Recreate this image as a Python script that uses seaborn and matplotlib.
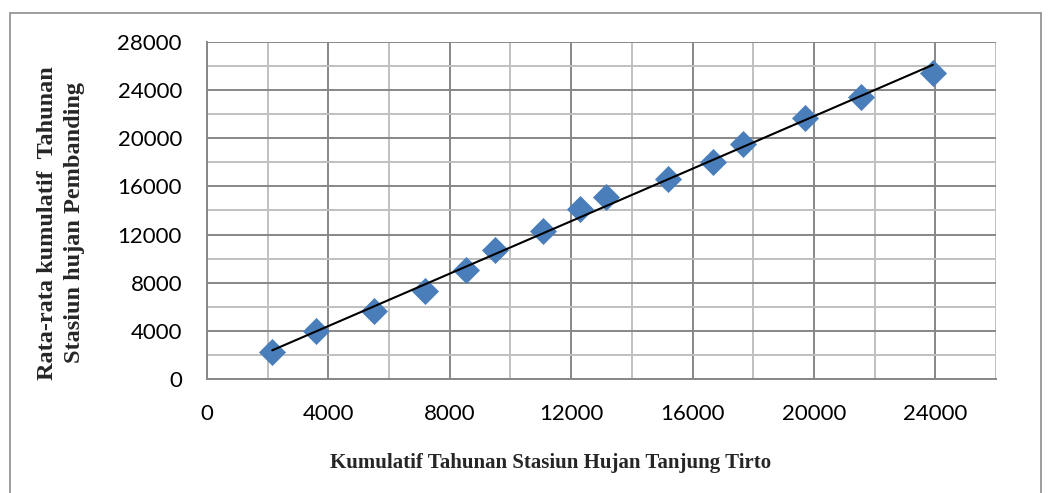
import numpy as np
import pandas as pd
import matplotlib
matplotlib.use('Agg')
import matplotlib.pyplot as plt
from matplotlib.patches import Rectangle
from matplotlib.ticker import MultipleLocator
import seaborn as sns

# Data
kumulatif_tanjung_tirto = [2150, 3600, 5500, 7200, 8550, 9500, 11070, 12300,
                           13150, 15200, 16680, 17650, 19700, 21550, 23920]
kumulatif_pembanding = [2250, 3950, 5650, 7350, 9050, 10700, 12330, 14100,
                        15150, 16600, 18000, 19500, 21650, 23450, 25400]

df = pd.DataFrame({'x': kumulatif_tanjung_tirto, 'y': kumulatif_pembanding})

sns.set_style('white')
plt.rcParams['font.family'] = ['Lato', 'DejaVu Sans']

fig = plt.figure(figsize=(10.51, 4.93), dpi=100)
ax = fig.add_axes([207 / 1051, 1 - 379 / 493, 789 / 1051, 337 / 493])

# outer chart border
fig.patches.append(Rectangle((10 / 1051, -0.05), 1031 / 1051, 1.05 - 13 / 493,
                             transform=fig.transFigure, fill=False,
                             edgecolor='#8c8c8c', linewidth=1.2))

sns.regplot(data=df, x='x', y='y', ax=ax, ci=None, marker='D',
            scatter_kws=dict(s=190, color='#4a7ebb', linewidths=0, alpha=1),
            line_kws=dict(color='black', linewidth=1.5))

ax.set_xlim(0, 26000)
ax.set_ylim(0, 28000)
ax.xaxis.set_major_locator(MultipleLocator(4000))
ax.xaxis.set_minor_locator(MultipleLocator(2000))
ax.yaxis.set_major_locator(MultipleLocator(4000))
ax.yaxis.set_minor_locator(MultipleLocator(2000))
ax.set_xticks([0, 4000, 8000, 12000, 16000, 20000, 24000])

ax.set_axisbelow(True)
ax.grid(which='major', color='#878787', linewidth=1.4)
ax.grid(which='minor', color='#c0c0c0', linewidth=1.4)
ax.axvline(26000, color='#c0c0c0', linewidth=1.4, zorder=0)

ax.tick_params(which='major', length=6, width=1.2, color='#878787',
               labelsize=16, colors='black')
ax.tick_params(axis='x', which='major', pad=12)
ax.tick_params(axis='y', which='major', pad=12)
ax.tick_params(which='minor', length=0)
for t in ax.get_xticklabels() + ax.get_yticklabels():
    t.set_color('black')

for side in ['top', 'right']:
    ax.spines[side].set_visible(False)
for side in ['left', 'bottom']:
    ax.spines[side].set_color('#878787')
    ax.spines[side].set_linewidth(1.4)

ax.set_xlabel('Kumulatif Tahunan Stasiun Hujan Tanjung Tirto',
              fontfamily='Liberation Serif', fontweight='bold', fontsize=15,
              va='center')
ax.xaxis.set_label_coords(0.436, -0.249)
ax.set_ylabel('Rata-rata kumulatif  Tahunan\nStasiun hujan Pembanding',
              fontfamily='Liberation Serif', fontweight='bold', fontsize=17.5,
              linespacing=1.35, va='center')
ax.yaxis.set_label_coords(-0.185, 0.463)

fig.savefig('out.png', dpi=100)
